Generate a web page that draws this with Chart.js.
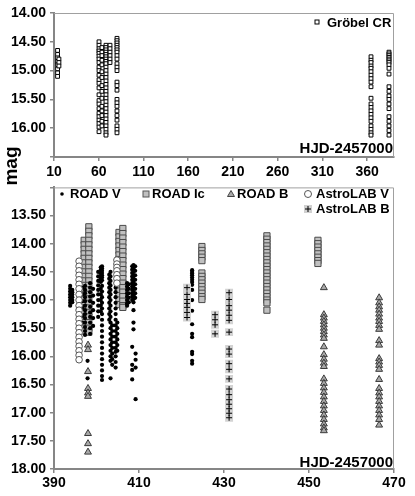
<!DOCTYPE html>
<html><head><meta charset="utf-8">
<script src="https://cdn.jsdelivr.net/npm/chart.js@4.4.0/dist/chart.umd.min.js"></script>
<style>
html,body{margin:0;padding:0;background:#fff;}
#wrap{position:relative;width:415px;height:496px;overflow:hidden;font-family:'Liberation Sans',Arial,sans-serif;}
#c1box{position:absolute;left:0;top:0;width:415px;height:190px;}
#c2box{position:absolute;left:0;top:175px;width:415px;height:321px;}
#mag{position:absolute;left:-9px;top:155px;width:40px;height:22px;line-height:22px;text-align:center;font-weight:bold;font-size:19px;transform:rotate(-90deg);color:#000;}
</style></head>
<body><div id="wrap">
<div id="c1box"><canvas id="c1" width="415" height="190"></canvas></div>
<div id="c2box"><canvas id="c2" width="415" height="321"></canvas></div>
<div id="mag">mag</div>
</div>
<script>
// ---------------- DATA ----------------
const topXTicks = [10, 60, 110, 160, 210, 260, 310, 360];
const topYTicks = [14.00, 14.50, 15.00, 15.50, 16.00];
const bottomXTicks = [390, 410, 430, 450, 470];
const bottomYTicks = [13.50, 14.00, 14.50, 15.00, 15.50, 16.00, 16.50, 17.00, 17.50, 18.00];
const xAxisLabel = 'HJD-2457000';
const yAxisLabel = 'mag';

const grobelCR = [
[14,14.65],[14,14.72],[14,14.78],[14,14.84],[14,14.90],[14,14.97],[14,15.04],[14,15.10],
[15.5,14.80],[15.5,14.86],[15.5,14.92],
[60.3,14.50],[60.3,14.56],[60.3,14.62],[60.3,14.66],[60.3,14.70],[60.3,14.75],[60.3,14.80],[60.3,14.86],[60.3,14.94],[60.3,15.00],[60.3,15.08],[60.3,15.16],[60.3,15.22],[60.3,15.30],[60.3,15.42],[60.3,15.52],[60.3,15.58],[60.3,15.66],[60.3,15.74],[60.3,15.80],[60.3,15.86],[60.3,15.92],[60.3,15.98],[60.3,16.06],
[63.6,14.60],[63.6,14.68],[63.6,14.74],[63.6,14.82],[63.6,14.90],[63.6,15.02],[63.6,15.12],[63.6,15.26],[63.6,15.36],[63.6,15.48],[63.6,15.62],[63.6,15.70],[63.6,15.78],[63.6,15.88],[63.6,15.96],
[68.1,14.56],[68.1,14.60],[68.1,14.64],[68.1,14.68],[68.1,14.72],[68.1,14.76],[68.1,14.80],[68.1,14.84],[68.1,14.88],[68.1,14.94],[68.1,15.00],[68.1,15.06],[68.1,15.12],[68.1,15.18],[68.1,15.24],[68.1,15.30],[68.1,15.36],[68.1,15.42],[68.1,15.48],[68.1,15.54],[68.1,15.60],[68.1,15.66],[68.1,15.72],[68.1,15.78],[68.1,15.84],[68.1,15.90],[68.1,15.96],[68.1,16.02],[68.1,16.08],[68.1,16.12],
[72.6,14.56],[72.6,14.62],[72.6,14.68],[72.6,14.74],[72.6,14.80],[72.6,14.86],
[80.4,14.44],[80.4,14.48],[80.4,14.52],[80.4,14.56],[80.4,14.60],[80.4,14.64],[80.4,14.68],[80.4,14.74],[80.4,14.80],[80.4,14.88],[80.4,14.94],[80.4,15.00],[80.4,15.20],[80.4,15.26],[80.4,15.34],[80.4,15.50],[80.4,15.56],[80.4,15.62],[80.4,15.70],[80.4,15.78],[80.4,15.86],[80.4,15.96],[80.4,16.02],[80.4,16.08],
[364.3,14.76],[364.3,14.82],[364.3,14.86],[364.3,14.92],[364.3,14.96],[364.3,15.02],[364.3,15.08],[364.3,15.14],[364.3,15.20],[364.3,15.28],[364.3,15.48],[364.3,15.58],[364.3,15.64],[364.3,15.70],[364.3,15.76],[364.3,15.82],[364.3,15.88],[364.3,15.96],[364.3,16.02],[364.3,16.08],[364.3,16.12],
[384.4,14.68],[384.4,14.71],[384.4,14.74],[384.4,14.77],[384.4,14.80],[384.4,14.83],[384.4,14.86],[384.4,14.90],[384.4,14.96],[384.4,15.06],[384.4,15.28],[384.4,15.36],[384.4,15.44],[384.4,15.50],[384.4,15.58],[384.4,15.66],[384.4,15.80],[384.4,15.88],[384.4,15.96],[384.4,16.04],[384.4,16.12]
];

const roadV = [
[393.8,14.75],[393.8,14.80],[393.8,14.85],[393.8,14.90],[393.8,14.95],[393.8,15.00],[393.8,15.05],[393.8,15.10],
[394.3,14.82],[394.3,14.86],[394.3,14.90],[394.3,14.95],[394.3,15.00],[394.3,15.04],
[396.7,14.78],[396.7,14.90],[396.7,15.02],[396.7,15.14],[396.7,15.28],[396.7,15.40],
[397.3,14.75],[397.3,14.82],[397.3,14.88],[397.3,14.95],[397.3,15.02],[397.3,15.10],[397.3,15.18],[397.3,15.25],[397.3,15.32],[397.3,15.40],[397.3,15.48],[397.3,15.55],[397.3,15.62],
[398.5,14.70],[398.5,14.78],[398.5,14.86],[398.5,14.94],[398.5,15.02],[398.5,15.12],[398.5,15.22],[398.5,15.30],[398.5,15.40],[398.5,15.50],[398.5,15.60],
[399.2,14.80],[399.2,14.92],[399.2,15.05],[399.2,15.18],[399.2,15.32],[399.2,15.46],
[397.9,16.08],[397.9,16.39],
[400.4,14.50],[400.4,14.58],[400.4,14.66],[400.4,14.74],[400.4,14.82],[400.4,14.90],[400.4,15.00],[400.4,15.10],[400.4,15.20],[400.4,15.30],
[401.0,14.42],[401.0,14.47],[401.0,14.52],[401.0,14.57],[401.0,14.62],[401.0,14.68],[401.0,14.80],[401.0,14.90],[401.0,15.00],[401.0,15.10],[401.0,15.20],
[401.3,14.40],[401.3,14.44],[401.3,14.48],[401.3,14.52],[401.3,14.56],[401.3,14.60],[401.3,14.65],[401.3,14.75],[401.3,14.85],[401.3,14.95],[401.3,15.05],[401.3,15.15],[401.3,15.25],[401.3,15.35],[401.3,15.45],[401.3,15.55],[401.3,15.65],[401.3,15.75],[401.3,15.85],[401.3,15.95],[401.3,16.05],[401.3,16.15],[401.3,16.25],[401.3,16.35],[401.3,16.42],
[403.0,14.55],[403.0,14.62],[403.0,14.70],[403.0,14.78],[403.0,14.86],[403.0,14.95],[403.0,15.05],[403.0,15.15],[403.0,15.25],[403.0,15.35],
[403.3,14.50],[403.3,14.58],[403.3,14.66],[403.3,14.74],[403.3,14.82],[403.3,14.90],[403.3,15.00],[403.3,15.10],[403.3,15.20],[403.3,15.30],[403.3,15.40],[403.3,15.50],[403.3,15.60],[403.3,15.70],[403.3,15.80],[403.3,15.90],[403.3,16.00],[403.3,16.08],[403.3,16.39],
[403.7,15.45],[403.7,15.55],[403.7,15.65],[403.7,15.75],[403.7,15.85],[403.7,15.95],[403.7,16.05],[403.7,16.15],
[404.5,14.78],[404.5,14.86],[404.5,14.95],[404.5,15.05],[404.5,15.15],[404.5,15.25],[404.5,15.35],[404.5,15.45],[404.5,15.55],[404.5,15.65],[404.5,15.75],[404.5,15.85],[404.5,15.92],[404.5,16.00],[404.5,16.10],[404.5,16.20],
[404.9,15.40],[404.9,15.50],[404.9,15.60],[404.9,15.70],[404.9,15.80],[404.9,15.90],
[407.2,14.70],[407.2,14.76],[407.2,14.82],[407.2,14.88],[407.2,14.94],[407.2,15.00],[407.2,15.06],[407.2,15.10],
[407.6,14.72],[407.6,14.80],[407.6,14.88],[407.6,14.96],[407.6,15.04],
[408.4,14.40],[408.4,14.46],[408.4,14.52],[408.4,14.58],[408.4,14.64],[408.4,14.70],[408.4,14.76],[408.4,14.82],[408.4,14.88],[408.4,14.94],[408.4,15.00],
[408.7,14.38],[408.7,14.44],[408.7,14.50],[408.7,14.56],[408.7,14.62],[408.7,14.68],[408.7,14.74],[408.7,14.80],[408.7,14.86],[408.7,14.92],[408.7,14.98],[408.7,15.04],[408.7,15.18],[408.7,15.40],[408.7,15.52],[408.4,15.83],[408.4,16.15],[408.4,16.24],[408.4,16.41],
[409.1,14.40],[409.1,14.48],[409.1,14.56],[409.1,14.64],[409.1,14.72],[409.1,14.80],[409.1,14.88],[409.1,14.96],
[409.2,15.95],[409.2,16.06],[409.2,16.20],[409.2,16.76],
[422.5,14.47],[422.5,14.50],[422.5,14.53],[422.5,14.56],[422.5,14.60],[422.5,14.64],[422.5,14.68],[422.5,14.73],[422.5,14.82],[422.5,15.00],[422.5,15.19],[422.5,15.43],[422.5,15.60],[422.5,15.66],[422.5,15.92],[422.5,15.96],[422.5,16.08],[422.5,16.13]
];

const roadIc = [
[397.1,13.94],[397.1,14.02],[397.1,14.10],[397.1,14.18],[397.1,14.26],[397.1,14.34],[397.1,14.42],[397.1,14.50],[397.1,14.58],[397.1,14.66],[397.1,14.74],[397.1,14.82],[397.1,14.90],[397.1,14.98],[397.1,15.06],[397.1,15.14],[397.1,15.22],[397.1,15.30],[397.1,15.40],[397.1,15.50],[397.1,15.55],
[398.2,13.70],[398.2,13.78],[398.2,13.86],[398.2,13.94],[398.2,14.02],[398.2,14.10],[398.2,14.18],[398.2,14.26],[398.2,14.34],[398.2,14.42],[398.2,14.50],[398.2,14.58],[398.2,14.66],[398.2,14.74],[398.2,14.82],[398.2,14.90],[398.2,14.98],[398.2,15.06],[398.2,15.14],[398.2,15.22],[398.2,15.30],[398.2,15.40],[398.2,15.50],[398.2,15.57],
[405.3,13.80],[405.3,13.88],[405.3,13.96],[405.3,14.04],[405.3,14.12],[405.3,14.20],[405.3,14.28],[405.3,14.36],[405.3,14.44],[405.3,14.52],[405.3,14.60],[405.3,14.68],[405.3,14.76],[405.3,14.84],[405.3,14.92],[405.3,15.00],[405.3,15.08],
[406.2,13.73],[406.2,13.82],[406.2,13.90],[406.2,13.98],[406.2,14.06],[406.2,14.14],[406.2,14.22],[406.2,14.30],[406.2,14.38],[406.2,14.46],[406.2,14.54],[406.2,14.62],[406.2,14.70],[406.2,14.78],[406.2,14.86],[406.2,14.94],[406.2,15.02],[406.2,15.10],[406.2,15.13],
[424.8,14.05],[424.8,14.12],[424.8,14.18],[424.8,14.24],[424.8,14.30],[424.8,14.52],[424.8,14.58],[424.8,14.64],[424.8,14.70],[424.8,14.76],[424.8,14.82],[424.8,14.88],[424.8,14.94],[424.8,14.99],
[440.1,13.86],[440.1,13.92],[440.1,13.98],[440.1,14.04],[440.1,14.10],[440.1,14.16],[440.1,14.22],[440.1,14.28],[440.1,14.34],[440.1,14.40],[440.1,14.46],[440.1,14.52],[440.1,14.58],[440.1,14.64],[440.1,14.70],[440.1,14.76],[440.1,14.82],[440.1,14.88],[440.1,14.94],[440.1,15.00],[440.1,15.05],[440.1,15.18],
[452.1,13.94],[452.1,14.00],[452.1,14.06],[452.1,14.12],[452.1,14.18],[452.1,14.24],[452.1,14.30],[452.1,14.35]
];

const roadB = [
[398.0,15.80],[398.0,15.88],[398.0,16.27],[398.0,16.57],[398.0,16.65],[398.0,16.71],[398.0,17.37],[398.0,17.55],[398.0,17.70],
[453.5,14.78],[453.5,15.26],[453.5,15.32],[453.5,15.38],[453.5,15.44],[453.5,15.50],[453.5,15.56],[453.5,15.62],[453.5,15.68],[453.5,15.83],[453.5,15.97],[453.5,16.05],[453.5,16.12],[453.5,16.18],[453.5,16.40],[453.5,16.48],[453.5,16.56],[453.5,16.64],[453.5,16.72],[453.5,16.80],[453.5,16.88],[453.5,16.96],[453.5,17.04],[453.5,17.12],[453.5,17.20],[453.5,17.27],[453.5,17.32],
[466.5,14.96],[466.5,15.05],[466.5,15.12],[466.5,15.18],[466.5,15.25],[466.5,15.32],[466.5,15.38],[466.5,15.45],[466.5,15.52],[466.5,15.72],[466.5,15.80],[466.5,16.04],[466.5,16.10],[466.5,16.16],[466.5,16.23],[466.5,16.41],[466.5,16.57],[466.5,16.65],[466.5,16.72],[466.5,16.80],[466.5,16.88],[466.5,16.96],[466.5,17.04],[466.5,17.12],[466.5,17.22]
];

const astroLabV = [
[395.9,14.31],[395.9,14.40],[395.9,14.48],[395.9,14.56],[395.9,14.64],[395.9,14.72],[395.9,14.80],[395.9,14.90],[395.9,15.00],[395.9,15.10],[395.9,15.18],[395.9,15.26],[395.9,15.34],[395.9,15.42],[395.9,15.50],[395.9,15.58],[395.9,15.66],[395.9,15.74],[395.9,15.82],[395.9,15.90],[395.9,15.98],[395.9,16.06],
[404.8,14.29],[404.8,14.36],[404.8,14.42],[404.8,14.48],[404.8,14.55],[404.8,14.62],[404.8,14.70]
];

const astroLabB = [
[421.3,14.78],[421.3,14.90],[421.3,14.99],[421.3,15.06],[421.3,15.13],[421.3,15.22],[421.3,15.31],
[427.9,15.26],[427.9,15.35],[427.9,15.44],[427.9,15.60],
[431.2,14.87],[431.2,14.99],[431.2,15.10],[431.2,15.18],[431.2,15.27],[431.2,15.36],[431.2,15.57],[431.2,15.87],[431.2,15.96],[431.2,16.13],[431.2,16.23],[431.2,16.40],[431.2,16.58],[431.2,16.68],[431.2,16.77],[431.2,16.85],[431.2,16.93],[431.2,17.01],[431.2,17.09]
];

// ---------------- RENDERING ----------------
const FONT = "'Liberation Sans', Arial, Helvetica, sans-serif";
const pts = arr => arr.map(p => ({x: p[0], y: p[1]}));

function drawMarker(ctx, style, x, y) {
  ctx.save();
  ctx.lineWidth = 1;
  if (style === 'dot') {
    ctx.fillStyle = '#000'; ctx.beginPath(); ctx.arc(x, y, 1.8, 0, Math.PI*2); ctx.fill();
  } else if (style === 'hollowSq') {
    ctx.fillStyle = '#fff'; ctx.strokeStyle = '#000';
    ctx.fillRect(x-2, y-2, 4, 4); ctx.strokeRect(x-2, y-2, 4, 4);
  } else if (style === 'graySq') {
    ctx.fillStyle = '#c0c0c0'; ctx.strokeStyle = '#555';
    ctx.fillRect(x-3, y-3, 6, 6); ctx.strokeRect(x-3, y-3, 6, 6);
  } else if (style === 'tri') {
    ctx.fillStyle = '#a8a8a8'; ctx.strokeStyle = '#444';
    ctx.beginPath(); ctx.moveTo(x, y-3.5); ctx.lineTo(x+3.5, y+2.5); ctx.lineTo(x-3.5, y+2.5); ctx.closePath(); ctx.fill(); ctx.stroke();
  } else if (style === 'circ') {
    ctx.fillStyle = '#fff'; ctx.strokeStyle = '#555';
    ctx.beginPath(); ctx.arc(x, y, 3.5, 0, Math.PI*2); ctx.fill(); ctx.stroke();
  } else if (style === 'plusSq') {
    ctx.fillStyle = '#d0d0d0'; ctx.fillRect(x-4, y-4, 8, 8);
    ctx.strokeStyle = '#000'; ctx.beginPath();
    ctx.moveTo(x-3, y); ctx.lineTo(x+3, y); ctx.moveTo(x, y-3); ctx.lineTo(x, y+3); ctx.stroke();
  }
  ctx.restore();
}

const decorPlugin = {
  id: 'decor',
  beforeDatasetsDraw(chart, args, opts) {
    const {ctx, chartArea: a} = chart;
    ctx.save();
    ctx.strokeStyle = '#a0a0a0'; ctx.lineWidth = 1;
    ctx.beginPath();
    ctx.moveTo(a.left, a.top + 0.5);
    ctx.lineTo(a.right - 0.5, a.top + 0.5);
    ctx.lineTo(a.right - 0.5, a.bottom);
    ctx.stroke();
    ctx.restore();
  },
  afterDraw(chart, args, opts) {
    const {ctx, chartArea: a} = chart;
    ctx.save();
    ctx.fillStyle = '#000';
    ctx.font = 'bold 13px ' + FONT;
    ctx.textBaseline = 'alphabetic';
    ctx.textAlign = 'left';
    (opts.items || []).forEach(it => {
      drawMarker(ctx, it.style, it.mx, it.my);
      ctx.fillStyle = '#000';
      ctx.fillText(it.text, it.tx, it.ty);
    });
    ctx.font = 'bold 15px ' + FONT;
    ctx.textAlign = 'right';
    ctx.fillText(xAxisLabel, a.right - 1, opts.hjdY);
    ctx.restore();
  }
};

function axisCommon() {
  return {
    border: {display: true, color: '#868686', width: 2},
    grid: {display: true, drawOnChartArea: false, drawTicks: true, tickLength: 4, color: '#868686', lineWidth: 1.5},
  };
}

const tickFont = {family: FONT, size: 14, weight: 'bold'};

Chart.defaults.font.family = FONT;

// Top chart
new Chart(document.getElementById('c1'), {
  type: 'scatter',
  data: {
    datasets: [{
      label: 'Gröbel CR',
      data: pts(grobelCR),
      pointStyle: 'rect', radius: 2.7, borderWidth: 1,
      borderColor: '#000', backgroundColor: '#fff'
    }]
  },
  options: {
    responsive: false, animation: false, devicePixelRatio: 1,
    layout: {padding: {left: 0, top: 13, right: 21, bottom: 3}},
    plugins: {
      legend: {display: false}, tooltip: {enabled: false},
      decor: {
        hjdY: 153,
        items: [{style: 'hollowSq', mx: 317, my: 22, text: 'Gröbel CR', tx: 327, ty: 27}]
      }
    },
    scales: {
      x: Object.assign(axisCommon(), {
        type: 'linear', min: 10, max: 390,
        afterBuildTicks: s => { s.ticks = topXTicks.map(v => ({value: v})); },
        ticks: {font: tickFont, color: '#000', padding: 3, autoSkip: false, maxRotation: 0,
          callback: v => String(v)},
        afterFit: s => { s.height = 30; }
      }),
      y: Object.assign(axisCommon(), {
        type: 'linear', min: 14, max: 16.5, reverse: true,
        afterBuildTicks: s => { s.ticks = topYTicks.map(v => ({value: v})).concat([{value: 16.5}]); },
        ticks: {font: tickFont, color: '#000', padding: 4, autoSkip: false,
          callback: v => (Math.abs(v - 16.5) < 1e-9 ? '' : Number(v).toFixed(2))},
        afterFit: s => { s.width = 54; }
      })
    }
  },
  plugins: [decorPlugin]
});

// Bottom chart
new Chart(document.getElementById('c2'), {
  type: 'scatter',
  data: {
    datasets: [
      {label: 'ROAD V', data: pts(roadV), pointStyle: 'circle', radius: 2.1, borderWidth: 0,
        backgroundColor: '#000', borderColor: '#000', order: 3},
      {label: 'ROAD Ic', data: pts(roadIc), pointStyle: 'rect', radius: 4.4, borderWidth: 1,
        backgroundColor: '#c0c0c0', borderColor: '#4a4a4a', order: 5},
      {label: 'ROAD B', data: pts(roadB), pointStyle: 'triangle', radius: 4, borderWidth: 1,
        backgroundColor: '#a8a8a8', borderColor: '#3a3a3a', order: 4},
      {label: 'AstroLAB V', data: pts(astroLabV), pointStyle: 'circle', radius: 3.3, borderWidth: 1,
        backgroundColor: '#fff', borderColor: '#555', order: 2},
      {label: 'AstroLAB B', data: pts(astroLabB), pointStyle: 'rect', radius: 5.6, borderWidth: 0,
        backgroundColor: '#d3d3d3', borderColor: '#d3d3d3', order: 1},
      {label: 'AstroLAB B (cross)', data: pts(astroLabB), pointStyle: 'cross', radius: 3, borderWidth: 1,
        backgroundColor: '#000', borderColor: '#000', order: 0}
    ]
  },
  options: {
    responsive: false, animation: false, devicePixelRatio: 1,
    layout: {padding: {left: 0, top: 8, right: 21, bottom: 0}},
    plugins: {
      legend: {display: false}, tooltip: {enabled: false},
      decor: {
        hjdY: 292,
        items: [
          {style: 'dot', mx: 62, my: 19, text: 'ROAD V', tx: 70, ty: 23},
          {style: 'graySq', mx: 146, my: 19, text: 'ROAD Ic', tx: 152, ty: 23},
          {style: 'tri', mx: 231, my: 19, text: 'ROAD B', tx: 237, ty: 23},
          {style: 'circ', mx: 308, my: 19, text: 'AstroLAB V', tx: 316, ty: 23},
          {style: 'plusSq', mx: 308, my: 34, text: 'AstroLAB B', tx: 316, ty: 38}
        ]
      }
    },
    scales: {
      x: Object.assign(axisCommon(), {
        type: 'linear', min: 390, max: 470,
        afterBuildTicks: s => { s.ticks = bottomXTicks.map(v => ({value: v})); },
        ticks: {font: tickFont, color: '#000', padding: 2, autoSkip: false, maxRotation: 0,
          callback: v => String(v)},
        afterFit: s => { s.height = 27; }
      }),
      y: Object.assign(axisCommon(), {
        type: 'linear', min: 13, max: 18, reverse: true,
        afterBuildTicks: s => { s.ticks = [{value: 13}].concat(bottomYTicks.map(v => ({value: v}))); },
        ticks: {font: tickFont, color: '#000', padding: 4, autoSkip: false,
          callback: v => (Math.abs(v - 13) < 1e-9 ? '' : Number(v).toFixed(2))},
        afterFit: s => { s.width = 54; }
      })
    }
  },
  plugins: [decorPlugin]
});
</script>
</body></html>
